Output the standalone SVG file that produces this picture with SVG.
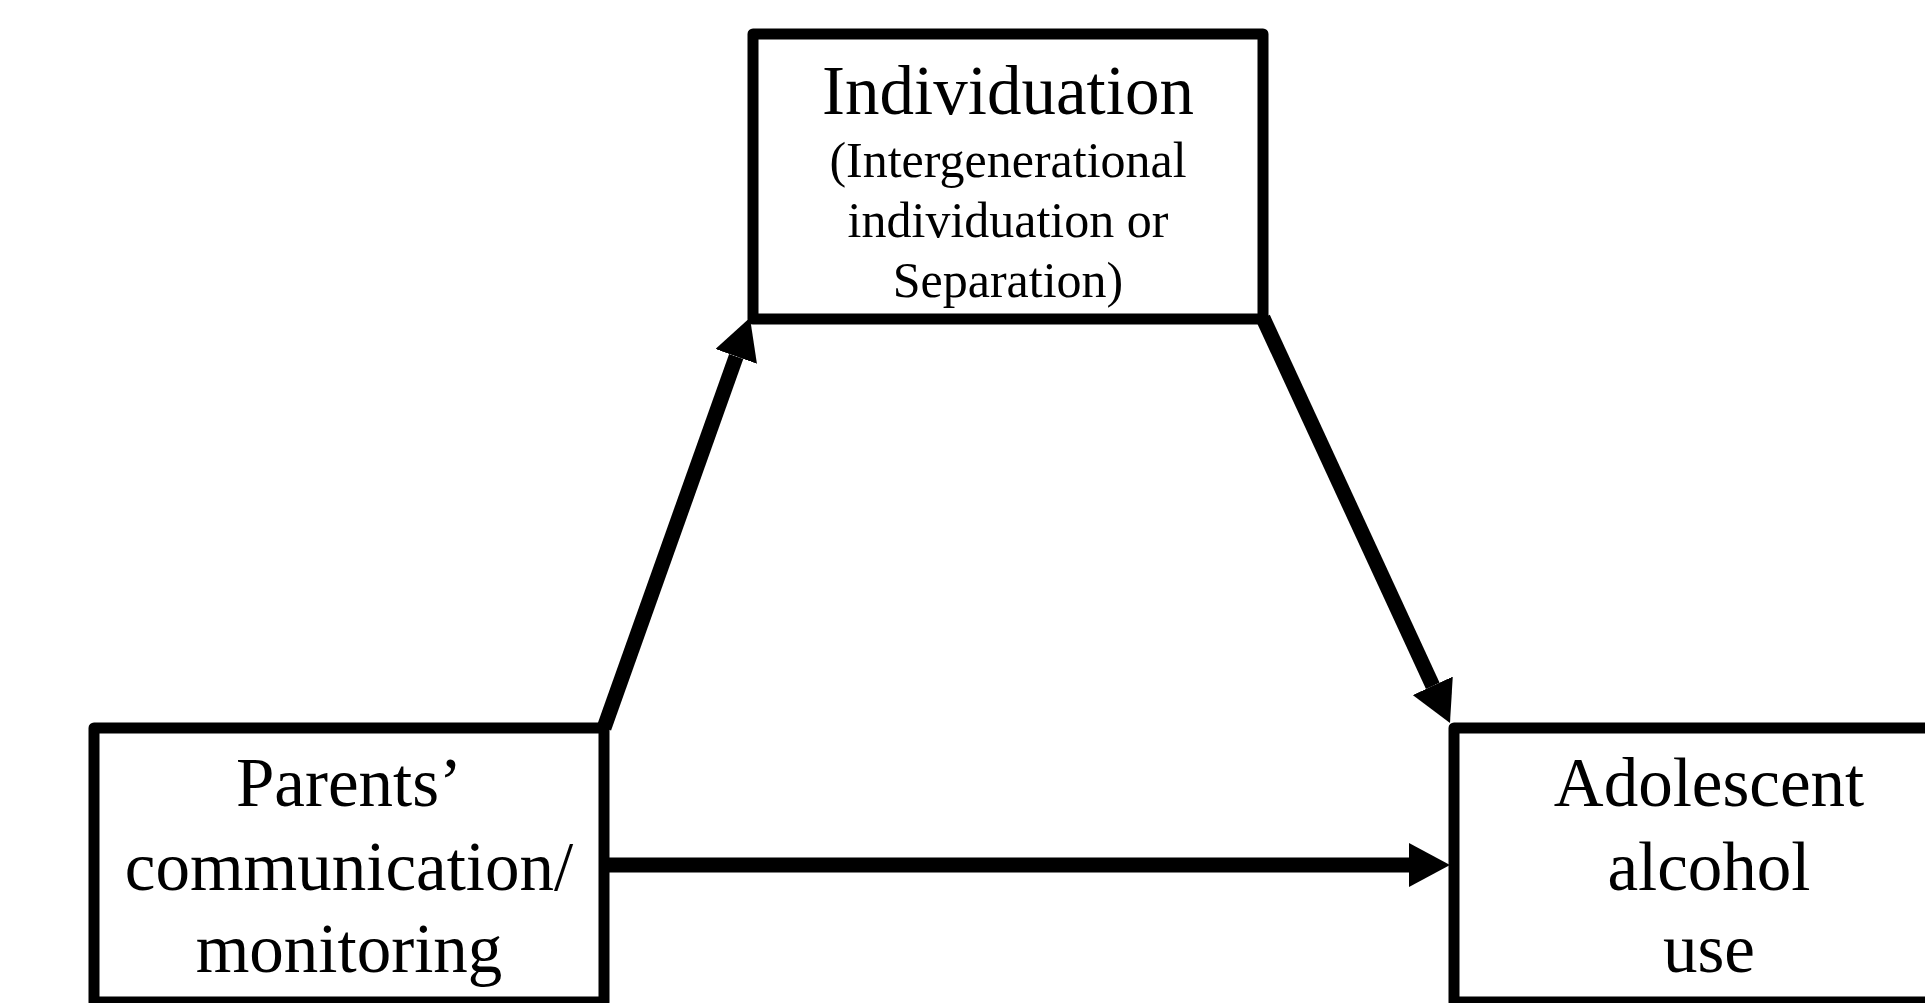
<svg xmlns="http://www.w3.org/2000/svg" width="1925" height="1003" viewBox="0 0 1925 1003">
<style>
.box{fill:#fff;stroke:#000;stroke-width:11;stroke-linejoin:round}
.t{font-family:"Liberation Serif","Times New Roman",serif;fill:#000;text-anchor:middle}
.big{font-size:69px}
.small{font-size:50px}
.conn{stroke:#000;stroke-width:15;fill:none;marker-end:url(#ah)}
</style>
<defs>
<marker id="ah" markerUnits="userSpaceOnUse" viewBox="0 0 41 44" refX="0" refY="22" markerWidth="41" markerHeight="44" orient="auto">
<path d="M0,0 L41,22 L0,44 Z" fill="#000"/>
</marker>
</defs>
<rect width="1925" height="1003" fill="#fff"/>
<g id="connectors">
<line class="conn" x1="604" y1="728" x2="736.2" y2="356.4"/>
<line class="conn" x1="1263" y1="318" x2="1432.8" y2="685.8"/>
<line class="conn" x1="604" y1="865" x2="1409" y2="865"/>
</g>
<g id="node-individuation">
<rect class="box" x="753" y="34" width="510" height="285"/>
<text class="t big" x="1008" y="114">Individuation</text>
<text class="t small" x="1008" y="177">(Intergenerational</text>
<text class="t small" x="1008" y="237">individuation or</text>
<text class="t small" x="1008" y="297">Separation)</text>
</g>
<g id="node-parents">
<rect class="box" x="94" y="728" width="510" height="274"/>
<text class="t big" x="349" y="806">Parents’</text>
<text class="t big" x="349" y="890">communication/</text>
<text class="t big" x="349" y="972">monitoring</text>
</g>
<g id="node-alcohol">
<rect class="box" x="1454" y="728" width="490" height="274"/>
<text class="t big" x="1709" y="806">Adolescent</text>
<text class="t big" x="1709" y="890">alcohol</text>
<text class="t big" x="1709" y="972">use</text>
</g>
</svg>
